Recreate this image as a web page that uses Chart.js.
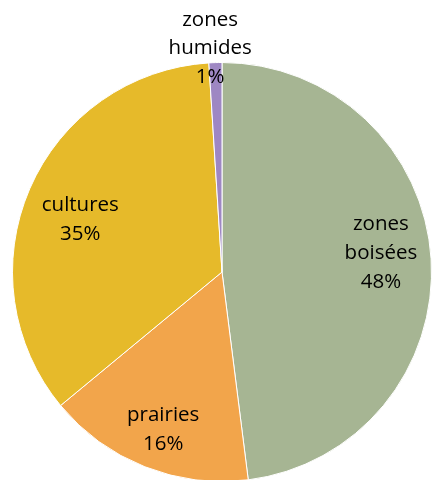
<!DOCTYPE html>
<html><head><meta charset="utf-8">
<script src="https://cdn.jsdelivr.net/npm/chart.js@4.4.1/dist/chart.umd.min.js"></script>
<style>
html,body{margin:0;padding:0;background:#fff;overflow:hidden;width:432px;height:480px;}
#wrap{position:absolute;left:0;top:0;width:440px;height:500px;}
</style></head>
<body>
<div id="wrap"><canvas id="c" width="440" height="500"></canvas></div>
<script>
const categories = ["zones boisées", "prairies", "cultures", "zones humides"];
const labelLines = [["zones", "boisées"], ["prairies"], ["cultures"], ["zones", "humides"]];
const values = [48, 16, 35, 1];
const valueLabels = ["48%", "16%", "35%", "1%"];
const colors = ["#A6B593", "#F2A54B", "#E6BA2A", "#9E87C3"];
// label placement: radial fraction of radius, plus small nudges
const labelRadial = [0.76, 0.84, 0.737, 1.039];
const labelNudge = [[0, -3], [6, 0], [0, 15], [-5, 0]];

const labelPlugin = {
  id: 'pieLabels',
  afterDatasetsDraw(chart) {
    const ctx = chart.ctx;
    const meta = chart.getDatasetMeta(0);
    ctx.save();
    ctx.font = '20.5px "Open Sans", Lato, sans-serif';
    ctx.fillStyle = '#000';
    ctx.textAlign = 'center';
    ctx.textBaseline = 'alphabetic';
    const lh = 28.7;
    meta.data.forEach((arc, i) => {
      const p = arc.getProps(['x','y','startAngle','endAngle','outerRadius'], true);
      const mid = (p.startAngle + p.endAngle) / 2;
      const r = p.outerRadius * labelRadial[i];
      const cx = p.x + Math.cos(mid) * r + labelNudge[i][0];
      const cy = p.y + Math.sin(mid) * r + labelNudge[i][1];
      const lines = labelLines[i].concat([valueLabels[i]]);
      const top = cy - (lines.length - 1) * lh / 2;
      lines.forEach((t, k) => ctx.fillText(t, cx, top + k * lh));
    });
    ctx.restore();
  }
};

new Chart(document.getElementById('c'), {
  type: 'pie',
  data: {
    labels: categories,
    datasets: [{
      data: values,
      backgroundColor: colors,
      borderColor: '#ffffff',
      borderWidth: 1
    }]
  },
  options: {
    responsive: false,
    animation: false,
    layout: { padding: { left: 12, top: 62, right: 8, bottom: 18 } },
    plugins: { legend: { display: false }, tooltip: { enabled: false } }
  },
  plugins: [labelPlugin]
});
</script>
</body></html>
